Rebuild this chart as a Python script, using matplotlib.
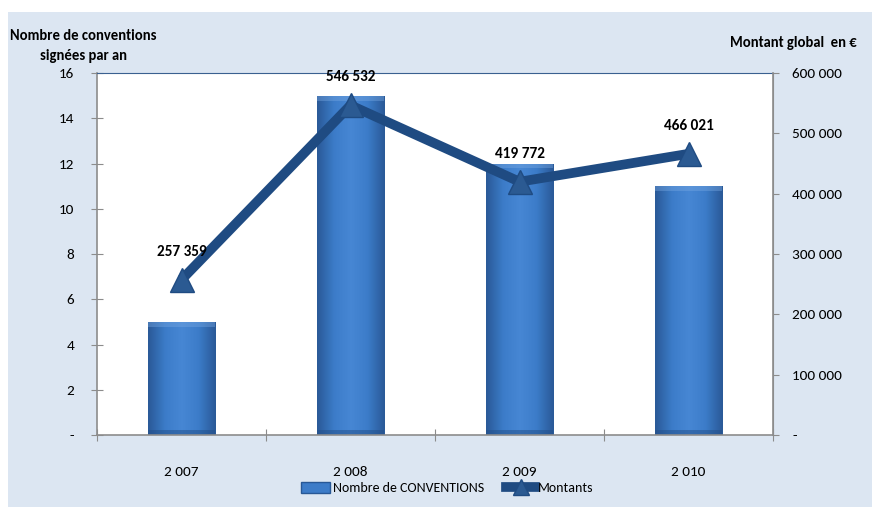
import numpy as np
import matplotlib
matplotlib.use('Agg')
import matplotlib.pyplot as plt
from matplotlib.patches import Rectangle
from matplotlib.lines import Line2D
from matplotlib.colors import LinearSegmentedColormap
from matplotlib.ticker import FuncFormatter, FixedLocator

plt.rcParams['font.family'] = ['Carlito', 'DejaVu Sans']

annees = ['2 007', '2 008', '2 009', '2 010']
nb_conventions = [5, 15, 12, 11]
montants = [257359, 546532, 419772, 466021]
montant_labels = ['257 359', '546 532', '419 772', '466 021']

bg = '#dce6f2'
line_col = '#1f4b82'
grey = '#8c8c8c'

fig = plt.figure(figsize=(8.72, 5.07), dpi=100)
fig.patch.set_facecolor('white')
fig.patches.append(Rectangle((8 / 872, 0), 1, (507 - 12) / 507, transform=fig.transFigure,
                             facecolor=bg, edgecolor='none', zorder=-10))

ax = fig.add_axes([97 / 872, 72 / 507, 676 / 872, 362 / 507])
ax.set_facecolor('white')
x = np.arange(len(annees))

# bars with a bevel-like gradient
cmap = LinearSegmentedColormap.from_list('bev', ['#2a5a98', '#3c7cc9', '#4787d4', '#3c7cc9', '#2a5a98'])
grad = np.tile(np.linspace(0, 1, 64), (32, 1))
bars = ax.bar(x, nb_conventions, width=0.4, color='#3d7cc8', edgecolor='none', zorder=2)
for b in bars:
    x0, w, h = b.get_x(), b.get_width(), b.get_height()
    im = ax.imshow(grad, cmap=cmap, extent=[x0, x0 + w, 0, h], aspect='auto', zorder=2.1,
                   interpolation='bicubic')
    im.set_clip_path(b)
    ax.add_patch(Rectangle((x0, h - 0.22), w, 0.22, facecolor='#7aaae3', alpha=0.4,
                           edgecolor='none', zorder=2.2))
    ax.add_patch(Rectangle((x0, 0), w, 0.2, facecolor='#234f88', alpha=0.5,
                           edgecolor='none', zorder=2.2))

ax.set_xlim(-0.5, len(annees) - 0.5)
ax.set_ylim(0, 16)
ax.set_yticks(np.arange(0, 17, 2))
ax.yaxis.set_major_formatter(FuncFormatter(lambda v, p: '-' if v == 0 else '%d' % v))
ax.xaxis.set_major_locator(FixedLocator(np.arange(-0.5, len(annees), 1)))
ax.xaxis.set_major_formatter(FuncFormatter(lambda v, p: ''))
ax.xaxis.set_minor_locator(FixedLocator(x))
ax.set_xticklabels(annees, minor=True)
ax.tick_params(axis='x', which='major', direction='inout', length=9, color=grey)
ax.tick_params(axis='x', which='minor', length=0, pad=22, labelsize=11)
ax.tick_params(axis='y', direction='inout', length=9, color=grey, pad=12, labelsize=11)
for s in ['left', 'bottom']:
    ax.spines[s].set_color(grey)
    ax.spines[s].set_linewidth(1.2)
ax.spines['top'].set_color('#3a6090')
ax.spines['right'].set_color(grey)

ax2 = ax.twinx()
ax2.set_ylim(0, 600000)
ax2.set_yticks(np.arange(0, 600001, 100000))
ax2.yaxis.set_major_formatter(FuncFormatter(
    lambda v, p: '-' if v == 0 else '{:,}'.format(int(v)).replace(',', ' ')))
ax2.tick_params(axis='y', direction='out', length=4, color=grey, pad=10, labelsize=11)
for s in ['left', 'bottom', 'top']:
    ax2.spines[s].set_visible(False)
ax2.spines['right'].set_color(grey)
ax2.spines['right'].set_linewidth(1.2)

ax2.plot(x, montants, color=line_col, lw=7, solid_capstyle='butt', zorder=3)
ax2.plot(x, montants, ls='none', marker='^', markersize=17, color='#2b5a92',
         markeredgecolor='#1f4b82', zorder=4)
for xi, v, lab in zip(x, montants, montant_labels):
    ax2.annotate(lab, (xi, v), xytext=(0, 20), textcoords='offset points', ha='center',
                 va='center', fontsize=11, fontweight='bold', color='black', zorder=5)

fig.text(83 / 872, 1 - 46 / 507, 'Nombre de conventions\nsignées par an', ha='center',
         va='center', fontsize=10.5, fontweight='bold', linespacing=1.55)
fig.text(857 / 872, 1 - 43 / 507, 'Montant global  en €', ha='right', va='center',
         fontsize=10.5, fontweight='bold')

h_bar = Rectangle((0, 0), 1, 1, facecolor='#3d7cc8', edgecolor='#285896')
h_line = Line2D([], [], color=line_col, lw=7, marker='^', markersize=11,
                markerfacecolor='#2b5a92', markeredgecolor=line_col)
fig.legend([h_bar, h_line], ['Nombre de CONVENTIONS', 'Montants'], loc='center',
           bbox_to_anchor=(447 / 872, 1 - 488 / 507), ncol=2, frameon=False,
           fontsize=10, handlelength=2.1, handleheight=0.8, handletextpad=0.2,
           columnspacing=1.6)

fig.savefig('out.png', dpi=100)
